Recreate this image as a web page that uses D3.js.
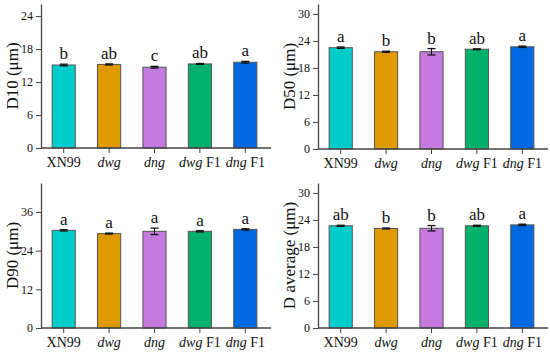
<!DOCTYPE html>
<html>
<head>
<meta charset="utf-8">
<script src="https://cdn.jsdelivr.net/npm/d3@7.9.0/dist/d3.min.js"></script>
<style>
  body { margin: 0; background: #fff; }
  svg text { font-family: "Liberation Serif", "Times New Roman", serif !important; fill: #111; }
</style>
</head>
<body>
<svg id="chart" width="550" height="352"></svg>
<script>
const genotypes = ['XN99', 'dwg', 'dng', 'dwg F1', 'dng F1'];
const colors = ['#00cccc', '#e09a00', '#c57ae0', '#00b06b', '#0068e0'];

const panelLabels = ['D10', 'D50', 'D90', 'D average'];
const yMax = [26.2, 32.2, 45, 32.2];
const yTicks = [[0, 6, 12, 18, 24], [0, 6, 12, 18, 24, 30], [0, 12, 24, 36], [0, 6, 12, 18, 24, 30]];

const d10 = [15.1, 15.2, 14.7, 15.3, 15.6];
const d10Err = [0.15, 0.1, 0.15, 0.08, 0.15];
const d10Sig = ['b', 'ab', 'c', 'ab', 'a'];

const d50 = [22.5, 21.6, 21.6, 22.15, 22.7];
const d50Err = [0.15, 0.12, 0.7, 0.1, 0.15];
const d50Sig = ['a', 'b', 'b', 'ab', 'a'];

const d90 = [30.3, 29.3, 30.0, 30.0, 30.6];
const d90Err = [0.2, 0.15, 1.0, 0.2, 0.2];
const d90Sig = ['a', 'a', 'a', 'a', 'a'];

const dAvg = [22.7, 22.1, 22.15, 22.7, 22.9];
const dAvgErr = [0.12, 0.1, 0.6, 0.12, 0.15];
const dAvgSig = ['ab', 'b', 'b', 'ab', 'a'];

const series = [
  { values: d10, errs: d10Err, sig: d10Sig },
  { values: d50, errs: d50Err, sig: d50Sig },
  { values: d90, errs: d90Err, sig: d90Sig },
  { values: dAvg, errs: dAvgErr, sig: dAvgSig },
];

// panel frames: left, top, bottom of each plot area
const frames = [
  { x0: 41, y0: 4, y1: 148 },
  { x0: 318, y0: 4, y1: 149 },
  { x0: 41, y0: 183, y1: 328 },
  { x0: 318, y0: 183, y1: 328 },
];
const plotW = 230;
const axisColor = '#444';

const svg = d3.select('#chart');

series.forEach((s, i) => {
  const f = frames[i];
  const g = svg.append('g');

  const x = d3.scaleBand()
    .domain(genotypes)
    .range([f.x0, f.x0 + 227])
    .paddingInner(0.49)
    .paddingOuter(0.245);
  const y = d3.scaleLinear().domain([0, yMax[i]]).range([f.y1, f.y0]);

  // bars
  g.selectAll('rect.bar')
    .data(s.values)
    .join('rect')
    .attr('class', 'bar')
    .attr('x', (d, j) => x(genotypes[j]))
    .attr('width', x.bandwidth())
    .attr('y', d => y(d))
    .attr('height', d => y(0) - y(d))
    .attr('fill', (d, j) => colors[j])
    .attr('stroke', '#555')
    .attr('stroke-width', 1);

  // error bars
  s.values.forEach((v, j) => {
    const cx = x(genotypes[j]) + x.bandwidth() / 2;
    const top = y(v + s.errs[j]);
    const bot = y(v - s.errs[j]);
    g.append('line').attr('x1', cx).attr('x2', cx).attr('y1', top).attr('y2', bot)
      .attr('stroke', '#111').attr('stroke-width', 1);
    [top, bot].forEach(yy => {
      g.append('line').attr('x1', cx - 4).attr('x2', cx + 4).attr('y1', yy).attr('y2', yy)
        .attr('stroke', '#111').attr('stroke-width', 1.3);
    });
    g.append('text')
      .attr('x', cx)
      .attr('y', top - 5)
      .attr('text-anchor', 'middle')
      .attr('font-size', 17)
      .text(s.sig[j]);
  });

  // y axis
  const yAxis = g.append('g')
    .attr('transform', `translate(${f.x0},0)`)
    .call(d3.axisLeft(y).tickValues(yTicks[i]).tickSize(5).tickSizeOuter(0));
  yAxis.select('.domain').attr('stroke', axisColor).attr('stroke-width', 1.3);
  yAxis.selectAll('.tick line').attr('stroke', axisColor);
  yAxis.selectAll('.tick text').attr('font-size', 12).attr('fill', '#222');

  // x axis
  const xAxis = g.append('g')
    .attr('transform', `translate(0,${f.y1})`)
    .call(d3.axisBottom(x).tickSize(5).tickSizeOuter(0).tickFormat(''));
  xAxis.select('.domain').attr('d', `M${f.x0},0H${f.x0 + plotW}`)
    .attr('stroke', axisColor).attr('stroke-width', 1.3);
  xAxis.selectAll('.tick line').attr('stroke', axisColor);

  // x labels with italic gene names
  genotypes.forEach(name => {
    const cx = x(name) + x.bandwidth() / 2;
    const t = g.append('text')
      .attr('x', cx)
      .attr('y', f.y1 + 19)
      .attr('text-anchor', 'middle')
      .attr('font-size', 14);
    if (name === 'XN99') {
      t.text(name);
    } else {
      const parts = name.split(' ');
      t.append('tspan').attr('font-style', 'italic').text(parts[0]);
      if (parts[1]) t.append('tspan').text(' ' + parts[1]);
    }
  });

  // y label
  g.append('text')
    .attr('transform', `translate(${f.x0 - 23},${(f.y0 + f.y1) / 2}) rotate(-90)`)
    .attr('text-anchor', 'middle')
    .attr('font-size', 17)
    .text(panelLabels[i] + ' (μm)');
});
</script>
</body>
</html>
